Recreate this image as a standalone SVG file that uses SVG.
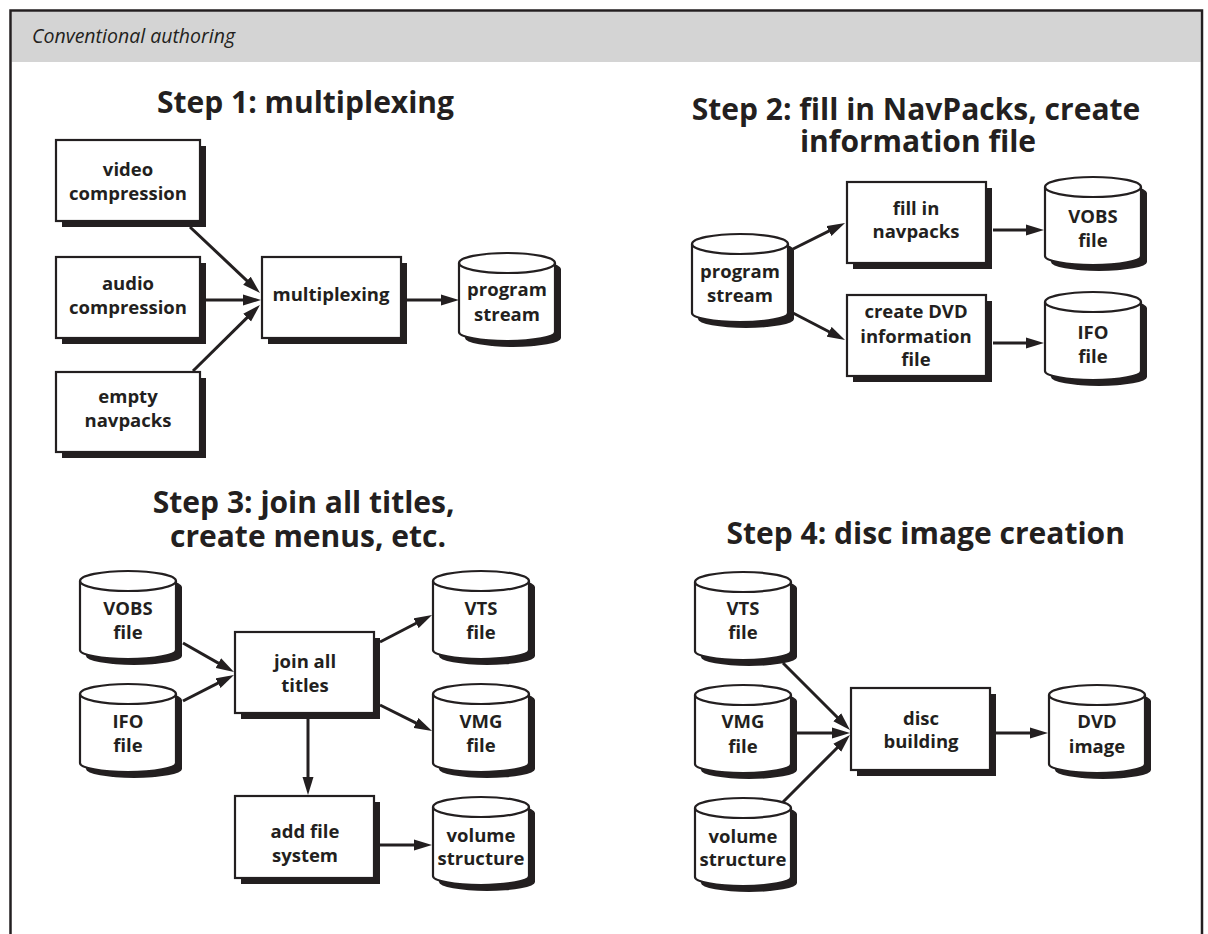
<svg xmlns="http://www.w3.org/2000/svg" xmlns:xlink="http://www.w3.org/1999/xlink" width="1208" height="934" viewBox="0 0 1208 934">
<style>
.frame{fill:none;stroke:#231f20;stroke-width:2.5}
.hdr{fill:#d4d4d4}
.hdrt{font-family:"Open Sans","Liberation Sans",sans-serif;font-style:italic;font-size:19.5px;fill:#231f20}
.title{font-family:"Open Sans","Liberation Sans",sans-serif;font-weight:700;font-size:30px;fill:#231f20;text-anchor:middle}
.lbl{font-family:"Open Sans","Liberation Sans",sans-serif;font-weight:700;font-size:18.5px;fill:#231f20;text-anchor:middle}
.sh{fill:#231f20}
.box{fill:#fff;stroke:#231f20;stroke-width:2.2}
.cb{fill:#fff;stroke:#231f20;stroke-width:2.2}
.cl{fill:none;stroke:#231f20;stroke-width:2.2}
.con{stroke:#231f20;stroke-width:3;fill:none;marker-end:url(#ah)}
</style>
<defs>
<marker id="ah" markerUnits="userSpaceOnUse" markerWidth="20" markerHeight="12" refX="6" refY="6" orient="auto">
<path d="M0,0.5 L18,6 L0,11.5 Z" fill="#231f20"/>
</marker>
<g id="cyl">
<path class="sh" d="M6,16 A48,10 0 0 1 102,16 L102,85 A48,9 0 0 1 6,85 Z"/>
<path class="cb" d="M0,10 A48,10 0 0 1 96,10 L96,79 A48,9 0 0 1 0,79 Z"/>
<path class="cl" d="M0,10 A48,10 0 0 0 96,10"/>
</g>
</defs>
<rect width="1208" height="934" fill="#fff"/>
<rect class="hdr" x="11.5" y="11.5" width="1189" height="50.5"/>
<path class="frame" d="M10.5,934 V10.5 H1202 V934"/>
<text class="hdrt" x="32" y="43">Conventional authoring</text>

<text class="title" x="305.5" y="113">Step 1: multiplexing</text>
<text class="title" y="120"><tspan x="916">Step 2: fill in NavPacks, create</tspan><tspan x="918" dy="31.7">information file</tspan></text>
<text class="title" y="513.3"><tspan x="303.7">Step 3: join all titles,</tspan><tspan x="308" dy="33.4">create menus, etc.</tspan></text>
<text class="title" x="925.7" y="544">Step 4: disc image creation</text>

<g id="connectors">
<path class="con" d="M190,227 L251.3,284.8"/>
<path class="con" d="M206,300 L249,300"/>
<path class="con" d="M193,371 L251.4,313.4"/>
<path class="con" d="M407,300 L447,300"/>
<path class="con" d="M793,249 L834.3,228.4"/>
<path class="con" d="M793,313 L834.4,334.5"/>
<path class="con" d="M993,230 L1032,230"/>
<path class="con" d="M993,343 L1032,343"/>
<path class="con" d="M183,643 L223.6,666.1"/>
<path class="con" d="M183,701 L223.3,680.4"/>
<path class="con" d="M308,719 L308,783"/>
<path class="con" d="M380,642 L421.4,620.5"/>
<path class="con" d="M380,705 L421.3,725.6"/>
<path class="con" d="M380,845 L420,845"/>
<path class="con" d="M783,663 L841.5,721.5"/>
<path class="con" d="M796,733 L838,733"/>
<path class="con" d="M782,803 L841.5,743.5"/>
<path class="con" d="M996,733 L1036,733"/>
</g>

<g id="s1-video">
<rect class="sh" x="62" y="146" width="144" height="81"/>
<rect class="box" x="56" y="140" width="144" height="81"/>
<text class="lbl" x="128" y="175.7">video</text>
<text class="lbl" x="128" y="200">compression</text>
</g>
<g id="s1-audio">
<rect class="sh" x="62" y="263" width="144" height="81"/>
<rect class="box" x="56" y="257" width="144" height="81"/>
<text class="lbl" x="128" y="290">audio</text>
<text class="lbl" x="128" y="314">compression</text>
</g>
<g id="s1-navpacks">
<rect class="sh" x="62" y="378" width="144" height="80"/>
<rect class="box" x="56" y="372" width="144" height="80"/>
<text class="lbl" x="128" y="403.3">empty</text>
<text class="lbl" x="128" y="426.7">navpacks</text>
</g>
<g id="s1-mux">
<rect class="sh" x="268" y="263" width="139" height="81"/>
<rect class="box" x="262" y="257" width="139" height="81"/>
<text class="lbl" x="331" y="300.5">multiplexing</text>
</g>
<g id="s1-ps">
<use xlink:href="#cyl" x="459" y="253"/>
<text class="lbl" x="507" y="296">program</text>
<text class="lbl" x="507" y="320.5">stream</text>
</g>

<g id="s2-ps">
<use xlink:href="#cyl" x="692" y="234"/>
<text class="lbl" x="740" y="278">program</text>
<text class="lbl" x="740" y="301.7">stream</text>
</g>
<g id="s2-fill">
<rect class="sh" x="853" y="188" width="139" height="81"/>
<rect class="box" x="847" y="182" width="139" height="81"/>
<text class="lbl" x="916" y="215">fill in</text>
<text class="lbl" x="916" y="238.3">navpacks</text>
</g>
<g id="s2-create">
<rect class="sh" x="853" y="301" width="139" height="81"/>
<rect class="box" x="847" y="295" width="139" height="81"/>
<text class="lbl" x="916" y="318.3">create DVD</text>
<text class="lbl" x="916" y="342.7">information</text>
<text class="lbl" x="916" y="366">file</text>
</g>
<g id="s2-vobs">
<use xlink:href="#cyl" x="1045" y="177"/>
<text class="lbl" x="1093" y="222.7">VOBS</text>
<text class="lbl" x="1093" y="246.7">file</text>
</g>
<g id="s2-ifo">
<use xlink:href="#cyl" x="1045" y="292"/>
<text class="lbl" x="1093" y="339.3">IFO</text>
<text class="lbl" x="1093" y="363.3">file</text>
</g>

<g id="s3-vobs">
<use xlink:href="#cyl" x="80" y="571"/>
<text class="lbl" x="128" y="615">VOBS</text>
<text class="lbl" x="128" y="639.3">file</text>
</g>
<g id="s3-ifo">
<use xlink:href="#cyl" x="80" y="684"/>
<text class="lbl" x="128" y="727.7">IFO</text>
<text class="lbl" x="128" y="752.3">file</text>
</g>
<g id="s3-join">
<rect class="sh" x="241" y="638" width="139" height="81"/>
<rect class="box" x="235" y="632" width="139" height="81"/>
<text class="lbl" x="305" y="668.3">join all</text>
<text class="lbl" x="305" y="691.7">titles</text>
</g>
<g id="s3-add">
<rect class="sh" x="241" y="802" width="139" height="82"/>
<rect class="box" x="235" y="796" width="139" height="82"/>
<text class="lbl" x="305" y="837.7">add file</text>
<text class="lbl" x="305" y="861.7">system</text>
</g>
<g id="s3-vts">
<use xlink:href="#cyl" x="433" y="571"/>
<text class="lbl" x="481" y="615">VTS</text>
<text class="lbl" x="481" y="639.3">file</text>
</g>
<g id="s3-vmg">
<use xlink:href="#cyl" x="433" y="684"/>
<text class="lbl" x="481" y="727.7">VMG</text>
<text class="lbl" x="481" y="752.3">file</text>
</g>
<g id="s3-volume">
<use xlink:href="#cyl" x="433" y="797"/>
<text class="lbl" x="481" y="841.7">volume</text>
<text class="lbl" x="481" y="865">structure</text>
</g>

<g id="s4-vts">
<use xlink:href="#cyl" x="695" y="572"/>
<text class="lbl" x="743" y="615">VTS</text>
<text class="lbl" x="743" y="639.3">file</text>
</g>
<g id="s4-vmg">
<use xlink:href="#cyl" x="695" y="685"/>
<text class="lbl" x="743" y="728.3">VMG</text>
<text class="lbl" x="743" y="752.7">file</text>
</g>
<g id="s4-volume">
<use xlink:href="#cyl" x="695" y="798"/>
<text class="lbl" x="743" y="842.7">volume</text>
<text class="lbl" x="743" y="866">structure</text>
</g>
<g id="s4-disc">
<rect class="sh" x="857" y="694" width="139" height="82"/>
<rect class="box" x="851" y="688" width="139" height="82"/>
<text class="lbl" x="921" y="725">disc</text>
<text class="lbl" x="921" y="748.3">building</text>
</g>
<g id="s4-dvd">
<use xlink:href="#cyl" x="1049" y="685"/>
<text class="lbl" x="1097" y="728.3">DVD</text>
<text class="lbl" x="1097" y="752.7">image</text>
</g>
</svg>
